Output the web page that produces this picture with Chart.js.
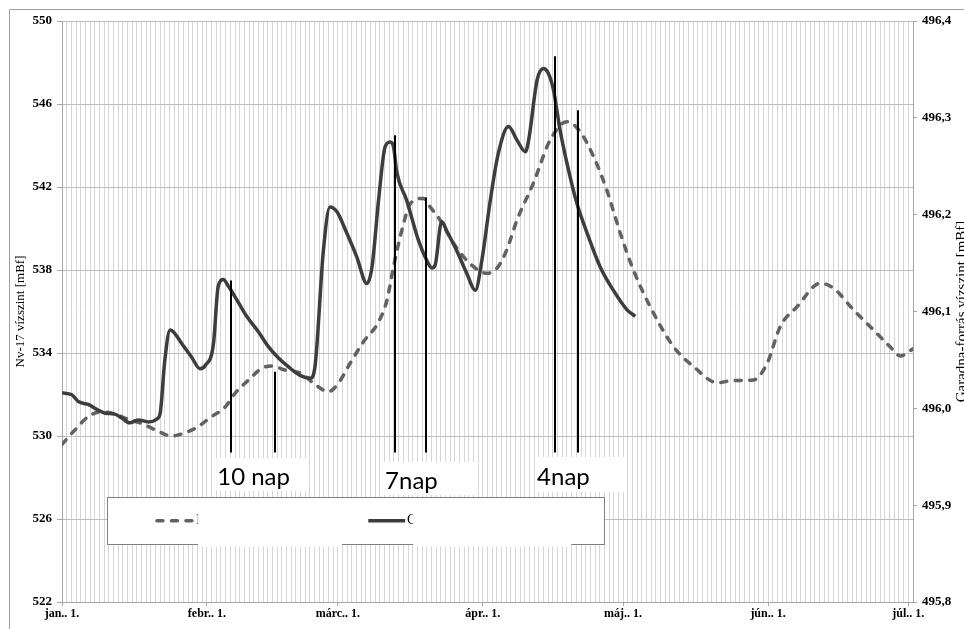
<!DOCTYPE html>
<html>
<head>
<meta charset="utf-8">
<script src="https://cdn.jsdelivr.net/npm/chart.js@4/dist/chart.umd.min.js"></script>
<style>
  html, body { margin: 0; padding: 0; background: #fff; }
</style>
</head>
<body>
<canvas id="myChart" width="964" height="629"></canvas>
<script>
// days counted from jan. 1.
const nvDays = [0, 2.8, 5.6, 8.5, 11.3, 14.2, 17.1, 19.9, 23.5, 25.6,
    28.5, 32.0, 34.9, 37.0, 39.9, 42.7, 44.9, 47.7, 51.3, 53.8,
    57.0, 59.1, 61.6, 64.5, 67.7, 69.5, 70.9, 72.7, 74.5, 77.3,
    78.7, 80.9, 83.7, 87.3, 90.9, 93.0, 95.1, 97.3, 100.8, 104.4,
    108.0, 110.8, 113.7, 116.5, 119.4, 122.2, 125.8, 130.8, 135.1, 140.1,
    143.6, 147.9, 150.8, 153.6, 157.2, 162.2, 165.0, 169.3, 173.6, 177.1,
    179.3, 182];
const nvLevel = [529.6, 530.3, 530.93, 531.17, 531.06, 530.8, 530.6, 530.3, 530.0, 530.1,
    530.37, 530.93, 531.4, 532.06, 532.7, 533.26, 533.37, 533.18, 533.0, 532.54,
    532.14, 532.54, 533.5, 534.55, 535.5, 536.55, 538.16, 539.93, 541.2, 541.45,
    541.05, 540.4, 539.3, 538.3, 537.84, 538.08, 538.96, 540.4, 542.18, 544.26,
    545.15, 544.67, 543.46, 541.86, 539.77, 538.0, 536.23, 534.3, 533.34, 532.57,
    532.67, 532.7, 533.5, 535.27, 536.23, 537.36, 537.12, 536.07, 535.1, 534.3,
    533.86, 534.2];

const garDays = [0, 2.1, 3.5, 5.6, 7.8, 9.2, 11.3, 12.8, 14.5, 16.3,
    18.5, 20.3, 21.0, 22.0, 23.1, 23.8, 25.6, 27.7, 29.5, 30.6,
    32.4, 33.4, 34.5, 35.6, 37.4, 39.5, 42.0, 44.1, 46.3, 48.4,
    50.9, 53.1, 54.1, 55.9, 57.3, 58.8, 60.9, 63.0, 65.2, 66.3,
    67.7, 69.1, 70.2, 70.9, 71.6, 73.7, 76.2, 78.0, 79.1, 79.8,
    81.2, 82.3, 84.4, 86.6, 88.4, 89.8, 91.6, 93.3, 95.5, 97.3,
    99.1, 99.8, 101.6, 103.0, 104.0, 105.1, 106.5, 108.0, 110.1, 112.3,
    115.1, 117.9, 120.8, 122.6];
const garLevel = [496.016, 496.014, 496.007, 496.004, 495.998, 495.995, 495.994, 495.990, 495.985, 495.988,
    495.986, 495.989, 495.995, 496.050, 496.081, 496.079, 496.067, 496.053, 496.041, 496.044,
    496.067, 496.126, 496.133, 496.126, 496.112, 496.095, 496.079, 496.064, 496.052, 496.043,
    496.034, 496.031, 496.043, 496.163, 496.208, 496.203, 496.181, 496.157, 496.129, 496.146,
    496.215, 496.270, 496.275, 496.270, 496.244, 496.215, 496.174, 496.153, 496.145, 496.148,
    496.193, 496.183, 496.163, 496.139, 496.122, 496.153, 496.215, 496.263, 496.291, 496.277,
    496.265, 496.277, 496.339, 496.351, 496.346, 496.329, 496.288, 496.253, 496.212, 496.181,
    496.146, 496.122, 496.102, 496.095];

const monthDays = [0, 31, 59, 90, 120, 151, 181];
const monthLabels = ['jan.. 1.', 'febr.. 1.', 'márc.. 1.', 'ápr.. 1.', 'máj.. 1.', 'jún.. 1.', 'júl.. 1.'];
const leftTicks = [522, 526, 530, 534, 538, 542, 546, 550];
const rightTicks = [495.8, 495.9, 496.0, 496.1, 496.2, 496.3, 496.4];

// lag markers: pairs of vertical lines (day, top level on left axis)
const lagDays = [[36.2, 45.5], [71.3, 77.9], [105.5, 110.3]];
const lagTops = [[537.5, 533.1], [544.5, 541.5], [548.3, 545.7]];
const lagBottom = 529.2;
const lagLabels = ['10 nap', '7nap', '4nap'];

const seriesNames = ['Nv-17 vízszint', 'Garadna-forrás vízszint'];

// where the white label boxes and the legend sit, in day / left-axis units
const lagBoxes = [
    { x0: 33.0, x1: 52.4, y0: 528.94, y1: 527.36, tx: 33.2, ty: 527.62 },
    { x0: 68.7, x1: 89.0, y0: 528.75, y1: 527.16, tx: 69.1, ty: 527.43 },
    { x0: 101.4, x1: 120.5, y0: 528.99, y1: 527.30, tx: 101.6, ty: 527.62 }
];
const legendBox = { x0: 9.7, x1: 116.0, y0: 527.06, y1: 524.78, ly: 525.92 };
const legendItems = [
    { s0: 20.3, s1: 28.9, tx: 28.7, c0: 29.1, c1: 59.9 },
    { s0: 65.5, s1: 73.4, tx: 73.8, c0: 75.1, c1: 108.9 }
];

const dashStyle = { color: '#626262', dash: [6, 8.5] };
const solidColor = '#3d3d3d';

const serif = '"Liberation Serif", "Times New Roman", serif';

const overlay = {
    id: 'overlay',
    beforeDraw(chart) {
        const c = chart.ctx;
        c.save();
        c.fillStyle = '#fff';
        c.fillRect(0, 0, chart.width, chart.height);
        c.strokeStyle = '#a0a0a0';
        c.lineWidth = 1;
        c.beginPath();
        c.moveTo(9.5, chart.height);
        c.lineTo(9.5, 9.5);
        c.lineTo(chart.width, 9.5);
        c.stroke();
        c.restore();
    },
    afterDatasetsDraw(chart) {
        const c = chart.ctx;
        const xs = chart.scales.x;
        const ys = chart.scales.y;
        const px = v => xs.getPixelForValue(v);
        const py = v => ys.getPixelForValue(v);
        c.save();

        // vertical lag lines
        c.strokeStyle = '#000';
        c.lineWidth = 2;
        for (let i = 0; i < lagDays.length; i++) {
            for (let j = 0; j < 2; j++) {
                const x = Math.round(px(lagDays[i][j]));
                c.beginPath();
                c.moveTo(x, py(lagTops[i][j]));
                c.lineTo(x, py(lagBottom));
                c.stroke();
            }
        }

        // label boxes
        c.font = '24px Lato, "Open Sans", sans-serif';
        c.textBaseline = 'alphabetic';
        c.textAlign = 'left';
        lagBoxes.forEach((b, i) => {
            c.fillStyle = '#fff';
            c.fillRect(px(b.x0), py(b.y0), px(b.x1) - px(b.x0), py(b.y1) - py(b.y0));
            c.fillStyle = '#000';
            c.fillText(lagLabels[i], px(b.tx), py(b.ty));
        });

        // legend
        const lx0 = Math.round(px(legendBox.x0)) + 0.5;
        const lx1 = Math.round(px(legendBox.x1)) + 0.5;
        const ly0 = Math.round(py(legendBox.y0)) + 0.5;
        const ly1 = Math.round(py(legendBox.y1)) + 0.5;
        c.fillStyle = '#fff';
        c.fillRect(lx0, ly0, lx1 - lx0, ly1 - ly0);
        c.strokeStyle = '#808080';
        c.lineWidth = 1;
        c.strokeRect(lx0, ly0, lx1 - lx0, ly1 - ly0);

        const ly = py(legendBox.ly);
        legendItems.forEach((it, i) => {
            c.beginPath();
            c.lineWidth = 3.5;
            if (i === 0) {
                c.strokeStyle = dashStyle.color;
                c.setLineDash(dashStyle.dash);
                c.lineCap = 'round';
            } else {
                c.strokeStyle = solidColor;
                c.setLineDash([]);
                c.lineCap = 'butt';
            }
            c.moveTo(px(it.s0), ly);
            c.lineTo(px(it.s1), ly);
            c.stroke();
            c.setLineDash([]);
            c.fillStyle = '#000';
            c.font = '14px ' + serif;
            c.textBaseline = 'middle';
            c.fillText(seriesNames[i], px(it.tx), ly);
            // white patches hiding the legend text
            c.fillStyle = '#fff';
            c.fillRect(px(it.c0), ly0 + 2, px(it.c1) - px(it.c0), py(524.72) - ly0 - 1);
        });
        c.restore();
    },
    afterDraw(chart) {
        const c = chart.ctx;
        const a = chart.chartArea;
        const mid = (a.top + a.bottom) / 2;
        c.save();
        c.fillStyle = '#000';
        c.textAlign = 'center';
        c.textBaseline = 'middle';
        c.font = '13px ' + serif;
        c.translate(21, mid);
        c.rotate(-Math.PI / 2);
        c.fillText('Nv-17 vízszint [mBf]', 0, 0);
        c.restore();

        c.save();
        c.fillStyle = '#000';
        c.textAlign = 'center';
        c.textBaseline = 'middle';
        c.font = '15px ' + serif;
        c.translate(962, mid);
        c.rotate(-Math.PI / 2);
        c.fillText('Garadna-forrás vízszint [mBf]', 0, 0);
        c.restore();
    }
};

const tickFont = { family: serif, size: 13, weight: 'bold' };

const ctx = document.getElementById('myChart').getContext('2d');
const myChart = new Chart(ctx, {
    type: 'line',
    data: {
        datasets: [
            {
                label: seriesNames[1],
                data: garDays.map((d, i) => ({ x: d, y: garLevel[i] })),
                yAxisID: 'y2',
                borderColor: solidColor,
                borderWidth: 3.5,
                pointRadius: 0,
                fill: false,
                cubicInterpolationMode: 'monotone',
                order: 0
            },
            {
                label: seriesNames[0],
                data: nvDays.map((d, i) => ({ x: d, y: nvLevel[i] })),
                yAxisID: 'y',
                borderColor: dashStyle.color,
                borderWidth: 3.5,
                borderDash: dashStyle.dash,
                borderCapStyle: 'round',
                pointRadius: 0,
                fill: false,
                cubicInterpolationMode: 'monotone',
                order: 1
            }
        ]
    },
    options: {
        responsive: false,
        animation: false,
        devicePixelRatio: 1,
        layout: { padding: { top: 21, left: 0, right: 0, bottom: 0 } },
        plugins: {
            legend: { display: false },
            tooltip: { enabled: false }
        },
        scales: {
            x: {
                type: 'linear',
                min: 0,
                max: 182,
                afterBuildTicks: s => {
                    const t = [];
                    for (let d = 0; d <= 182; d++) t.push({ value: d });
                    s.ticks = t;
                },
                afterFit: s => { s.height = 27; },
                ticks: {
                    autoSkip: false,
                    maxRotation: 0,
                    minRotation: 0,
                    padding: 1,
                    color: '#000',
                    font: { family: serif, size: 12, weight: 'bold' },
                    callback: v => {
                        const i = monthDays.indexOf(v);
                        return i >= 0 ? monthLabels[i] : '';
                    }
                },
                grid: {
                    color: '#d6d6d6',
                    lineWidth: 1,
                    tickLength: 4,
                    tickColor: c => monthDays.includes(c.tick.value) ? '#a6a6a6' : 'rgba(0,0,0,0)'
                },
                border: { color: '#a6a6a6' }
            },
            y: {
                position: 'left',
                min: 522,
                max: 550,
                afterBuildTicks: s => { s.ticks = leftTicks.map(v => ({ value: v })); },
                afterFit: s => { s.width = 62; },
                ticks: { color: '#000', font: tickFont, padding: 5 },
                grid: { color: '#bdbdbd', tickLength: 5, tickColor: '#a6a6a6' },
                border: { color: '#a6a6a6' }
            },
            y2: {
                position: 'right',
                min: 495.8,
                max: 496.4,
                afterBuildTicks: s => { s.ticks = rightTicks.map(v => ({ value: v })); },
                afterFit: s => { s.width = 51; },
                ticks: {
                    color: '#000',
                    font: tickFont,
                    padding: 5,
                    callback: v => v.toFixed(1).replace('.', ',')
                },
                grid: { drawOnChartArea: false, tickLength: 4, tickColor: '#a6a6a6' },
                border: { color: '#a6a6a6' }
            }
        }
    },
    plugins: [overlay]
});
</script>
</body>
</html>
